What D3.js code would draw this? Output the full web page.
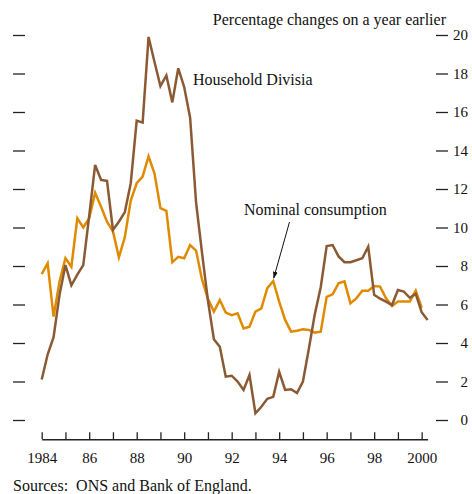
<!DOCTYPE html>
<html>
<head>
<meta charset="utf-8">
<script src="https://cdn.jsdelivr.net/npm/d3@7"></script>
<style>
  body { margin: 0; background: #fff; }
  svg text { font-family: "Liberation Serif", "Times New Roman", serif; fill: #111; }
</style>
</head>
<body>
<svg id="chart" width="472" height="494"></svg>
<script>
// Quarterly data, first quarter = 1984 Q1
const startYear = 1984;

// Household Divisia money, % change on a year earlier
const divisia = [
  2.1, 3.4, 4.3, 6.5, 8.05, 7.0, 7.55, 8.05,
  10.6, 13.25, 12.47, 12.42, 9.87, 10.3, 10.8, 12.3,
  15.55, 15.45, 19.9, 18.6, 17.35, 17.9, 16.5, 18.27,
  17.3, 15.7, 11.3, 8.7, 6.2, 4.2, 3.8, 2.25,
  2.3, 2.0, 1.56, 2.34, 0.35, 0.69, 1.1, 1.2,
  2.5, 1.56, 1.6, 1.4, 2.0, 3.7, 5.5, 6.9,
  9.04, 9.09, 8.5, 8.2, 8.2, 8.3, 8.4, 9.0,
  6.5, 6.3, 6.15, 5.97, 6.75, 6.67, 6.35, 6.55,
  5.6, 5.2
];

// Nominal consumption, % change on a year earlier
const nominal = [
  7.58, 8.14, 5.37, 7.2, 8.4, 7.96, 10.48, 10.0,
  10.48, 11.8, 11.08, 10.3, 9.8, 8.45, 9.5, 11.4,
  12.3, 12.64, 13.7, 12.8, 11.0, 10.86, 8.2, 8.48,
  8.4, 9.09, 8.8, 7.3, 6.3, 5.63, 6.23, 5.58,
  5.45, 5.54, 4.76, 4.85, 5.63, 5.8, 6.85, 7.22,
  6.15, 5.2, 4.59, 4.64, 4.71, 4.68, 4.54, 4.59,
  6.4, 6.53, 7.1, 7.2, 6.06, 6.32, 6.72, 6.72,
  6.96, 6.93, 6.32, 5.92, 6.15, 6.15, 6.15, 6.72,
  5.83
];

const yTicks = [0, 2, 4, 6, 8, 10, 12, 14, 16, 18, 20];
const years = d3.range(1984, 2001);
const yearLabel = yr => yr % 2 !== 0 ? "" : (yr === 1984 || yr === 2000 ? String(yr) : String(yr).slice(2));

const brown = "#8b5a34";
const orange = "#e08a00";

const svg = d3.select("#chart");

const x = d3.scaleLinear().domain([1984, 2000.25]).range([41.7, 427.6]);
const y = d3.scaleLinear().domain([-1, 20]).range([439.25, 35]);

const toPoints = arr => arr.map((v, i) => ({ t: startYear + i / 4, v: v }));

// left ticks (no labels)
svg.append("g")
  .attr("transform", "translate(13,0)")
  .call(d3.axisRight(y).tickValues(yTicks).tickSize(12).tickFormat(""))
  .call(g => g.select(".domain").remove())
  .call(g => g.selectAll("line").attr("stroke", "#222").attr("stroke-width", 1.3));

// right ticks with labels
svg.append("g")
  .attr("transform", "translate(436,0)")
  .call(d3.axisRight(y).tickValues(yTicks).tickSize(12).tickPadding(20))
  .call(g => g.select(".domain").remove())
  .call(g => g.selectAll("line").attr("stroke", "#222").attr("stroke-width", 1.3))
  .call(g => g.selectAll("text")
    .attr("text-anchor", "end")
    .attr("x", 32)
    .attr("font-size", 15)
    .attr("font-family", null));

// bottom axis
svg.append("g")
  .attr("transform", `translate(0,${y(-1)})`)
  .call(d3.axisBottom(x).tickValues(years).tickSizeInner(-7).tickSizeOuter(0).tickPadding(13).tickFormat(yearLabel))
  .call(g => g.select(".domain").attr("stroke", "#222").attr("stroke-width", 1.3))
  .call(g => g.selectAll("line").attr("stroke", "#222").attr("stroke-width", 1.3))
  .call(g => g.selectAll("text").attr("font-size", 15).attr("font-family", null));

const line = d3.line().x(d => x(d.t)).y(d => y(d.v));

svg.append("path")
  .datum(toPoints(nominal))
  .attr("fill", "none")
  .attr("stroke", orange)
  .attr("stroke-width", 2.5)
  .attr("d", line);

svg.append("path")
  .datum(toPoints(divisia))
  .attr("fill", "none")
  .attr("stroke", brown)
  .attr("stroke-width", 2.5)
  .attr("d", line);

// labels
svg.append("text")
  .attr("x", 446).attr("y", 25)
  .attr("text-anchor", "end")
  .attr("font-size", 16)
  .text("Percentage changes on a year earlier");

svg.append("text")
  .attr("x", 193).attr("y", 85)
  .attr("font-size", 16)
  .text("Household Divisia");

svg.append("text")
  .attr("x", 244).attr("y", 215)
  .attr("font-size", 16)
  .text("Nominal consumption");

// arrow to nominal consumption peak
svg.append("defs").append("marker")
  .attr("id", "arrowhead")
  .attr("viewBox", "0 0 10 10")
  .attr("refX", 9).attr("refY", 5)
  .attr("markerWidth", 7).attr("markerHeight", 7)
  .attr("orient", "auto")
  .append("path")
  .attr("d", "M0,1.5 L10,5 L0,8.5 Z")
  .attr("fill", "#111");

svg.append("line")
  .attr("x1", 289.5).attr("y1", 222)
  .attr("x2", x(1993.75) + 0.5).attr("y2", y(7.22) - 3)
  .attr("stroke", "#111")
  .attr("stroke-width", 1)
  .attr("marker-end", "url(#arrowhead)");

svg.append("text")
  .attr("x", 13).attr("y", 491)
  .attr("font-size", 16)
  .style("white-space", "pre")
  .text("Sources:  ONS and Bank of England.");
</script>
</body>
</html>
